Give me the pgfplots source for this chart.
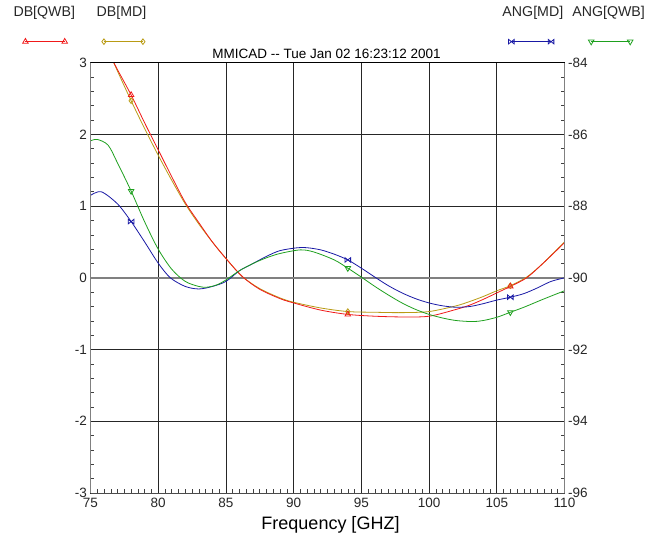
\documentclass[border=0pt]{standalone}
\usepackage{pgfplots}
\pgfplotsset{compat=1.18}
\usepackage{fontspec}
\setmainfont{Liberation Sans}

\definecolor{cred}{RGB}{240,25,25}
\definecolor{cgold}{RGB}{185,155,20}
\definecolor{cblue}{RGB}{25,25,165}
\definecolor{cgreen}{RGB}{30,160,30}

\pgfdeclareplotmark{bowtie}{%
 \pgfpathmoveto{\pgfqpoint{-\pgfplotmarksize}{-0.8\pgfplotmarksize}}%
 \pgfpathlineto{\pgfqpoint{-\pgfplotmarksize}{0.8\pgfplotmarksize}}%
 \pgfpathlineto{\pgfqpoint{\pgfplotmarksize}{-0.8\pgfplotmarksize}}%
 \pgfpathlineto{\pgfqpoint{\pgfplotmarksize}{0.8\pgfplotmarksize}}%
 \pgfpathclose
 \pgfusepathqstroke}

\pgfplotsset{
 common/.style={
  scale only axis, width=474pt, height=430.3pt,
  at={(0,0)}, anchor=south west,
  xmin=75, xmax=110,
  tick align=inside, major tick length=0pt, minor tick length=4pt,
  minor tick style={black!75, line width=0.6pt},
  axis line style={draw=none},
  tick label style={font=\fontsize{13.5}{13.5}\selectfont, text=black!85},
  xticklabel style={yshift=-2pt},
  /pgf/number format/assume math mode=true,
  legend columns=2,
 },
 legbase/.style={draw=none, fill=none, inner sep=0pt, outer sep=0pt,
  column sep=0pt, row sep=0pt,
  nodes={inner sep=0pt, outer sep=0pt, anchor=base west, font=\fontsize{14.2}{14.2}\selectfont, text=black!85}},
}

\begin{document}
\begin{tikzpicture}
\begin{axis}[common,
  ymin=-3, ymax=3,
  xtick={75,80,...,110}, ytick={-3,-2,...,3},
  minor x tick num=9, minor y tick num=4,
  xtick pos=left, ytick pos=left,
  grid=major, major grid style={black!85, line width=0.8pt},
  title={MMICAD {-}{-} Tue Jan 02 16:23:12 2001},
  title style={font=\fontsize{13.5}{13.5}\selectfont, at={(axis description cs:0.5,1)}, anchor=base, yshift=-2.3pt, xshift=-1pt, inner sep=0pt},
  xlabel={Frequency [GHZ]},
  xlabel style={font=\fontsize{18}{18}\selectfont, at={(axis description cs:0.5,0)}, anchor=base, yshift=-36pt, xshift=3pt, inner sep=0pt},
  legend style={legbase, at={(axis description cs:-0.1641,1.1302)}, anchor=north west},
]
\addlegendimage{legend image code/.code={\path (0pt,0pt); \draw[overlay] plot coordinates {(12.3pt,-24.7pt) (51.6pt,-24.7pt)};}, cred, line width=0.8pt, mark=triangle, mark size=3.2pt}
\addlegendimage{legend image code/.code={\path (0pt,0pt); \draw[overlay] plot coordinates {(7.7pt,-24.7pt) (46.7pt,-24.7pt)};}, cgold, line width=0.8pt, mark=diamond, mark size=2.8pt}

\draw[black!50, line width=1.6pt] (axis cs:75,0) -- (axis cs:110,0);

\addplot[cgold, line width=0.8pt, smooth, forget plot] coordinates {
(76.4,3.14) (77,2.88) (78,2.47) (79,2.08) (80,1.71) (81,1.36) (82,1.03) (83,0.75) (84,0.5) (85,0.27) (86.2,0.02) (87.5,-0.15) (89,-0.28) (90,-0.34) (92,-0.42) (94,-0.47) (96,-0.48) (98,-0.485) (100,-0.47) (102,-0.39) (103,-0.33) (104,-0.26) (105,-0.18) (106,-0.11) (107.2,0.01) (108.4,0.2) (110,0.5)};
\addplot[cred, line width=0.8pt, smooth, forget plot] coordinates {
(76.4,3.12) (77,2.9) (78,2.55) (79,2.16) (80,1.785) (81,1.41) (82,1.05) (83,0.77) (84,0.5) (85,0.27) (86.2,0.02) (87.5,-0.16) (89,-0.29) (90,-0.35) (92,-0.45) (94,-0.51) (96,-0.535) (98,-0.545) (100,-0.535) (102,-0.44) (103,-0.38) (104,-0.30) (105,-0.21) (106,-0.12) (107.2,0.0) (108.4,0.2) (110,0.49)};
\addplot[cgold, only marks, mark=diamond, mark size=2.8pt, line width=0.8pt, forget plot] coordinates {(78,2.47) (94,-0.47) (106,-0.11)};
\addplot[cred, only marks, mark=triangle, mark size=3.2pt, line width=0.8pt, forget plot] coordinates {(78,2.55) (94,-0.51) (106,-0.12)};
\legend{\makebox[82.3pt][l]{DB[QWB]},DB[MD]}
\end{axis}

\begin{axis}[common, clip=false,
  ymin=-96, ymax=-84,
  axis x line=none, axis y line*=right,
  ytick={-96,-94,...,-84}, minor y tick num=4, ytick pos=right,
  legend style={legbase, at={(axis description cs:0.8675,1.1302)}, anchor=north west},
]
\addlegendimage{legend image code/.code={\path (0pt,0pt); \draw[overlay] plot coordinates {(9.3pt,-24.7pt) (49pt,-24.7pt)};}, cblue, line width=0.8pt, mark=bowtie, mark size=2.8pt}
\addlegendimage{legend image code/.code={\path (0pt,0pt); \draw[overlay] plot coordinates {(19.3pt,-24.7pt) (58.3pt,-24.7pt)};}, cgreen, line width=0.8pt, mark=triangle, mark size=3.2pt, mark options={rotate=180}}

\addplot[cblue, line width=0.8pt, smooth, forget plot] coordinates {
(75,-87.70) (75.8,-87.60) (77,-87.94) (78,-88.43) (79,-89.0) (80,-89.59) (80.9,-90.0) (82,-90.24) (83,-90.31) (84,-90.24) (85,-90.10) (86,-89.80) (86.8,-89.64) (88,-89.40) (89,-89.24) (90.3,-89.16) (91,-89.16) (92,-89.22) (93,-89.34) (94,-89.50) (95,-89.73) (96,-89.98) (97,-90.22) (98,-90.42) (99,-90.58) (100,-90.70) (101,-90.78) (102,-90.82) (103,-90.80) (104,-90.72) (105,-90.62) (106,-90.54) (107,-90.44) (108,-90.28) (109,-90.1) (110,-90.0)};
\addplot[cgreen, line width=0.8pt, smooth, forget plot] coordinates {
(75,-86.18) (75.5,-86.14) (76.3,-86.3) (77,-86.8) (78,-87.58) (79,-88.44) (80,-89.2) (81,-89.76) (82,-90.1) (83,-90.24) (83.6,-90.26) (84.3,-90.2) (85,-90.06) (86,-89.8) (87,-89.6) (88,-89.44) (89,-89.32) (90.5,-89.22) (91.5,-89.28) (93,-89.5) (94,-89.73) (95,-89.98) (96,-90.24) (97,-90.48) (98,-90.7) (99,-90.88) (100,-91.02) (101,-91.12) (102,-91.19) (103.2,-91.22) (104,-91.19) (105,-91.1) (106,-90.96) (107,-90.82) (108.4,-90.6) (110,-90.36)};
\addplot[cblue, only marks, mark=bowtie, mark size=2.8pt, line width=0.8pt, forget plot] coordinates {(78,-88.43) (94,-89.50) (106,-90.54)};
\addplot[cgreen, only marks, mark=triangle, mark size=3.2pt, mark options={rotate=180}, line width=0.8pt, forget plot] coordinates {(78,-87.58) (94,-89.73) (106,-90.96)};

\draw[black!50, line width=1.6pt] (rel axis cs:0,0) -- (rel axis cs:0,1);
\draw[black!50, line width=1.6pt] (rel axis cs:1,0) -- (rel axis cs:1,1);
\draw[black, line width=0.8pt] (rel axis cs:0,1) -- (rel axis cs:1,1);
\draw[black!70, line width=1pt] (rel axis cs:0,0) -- (rel axis cs:1,0);
\legend{\makebox[69pt][l]{ANG[MD]},ANG[QWB]}
\end{axis}
\pgfresetboundingbox
\useasboundingbox (-90.5pt,-48pt) rectangle (554.5pt,493pt);
\end{tikzpicture}
\end{document}
